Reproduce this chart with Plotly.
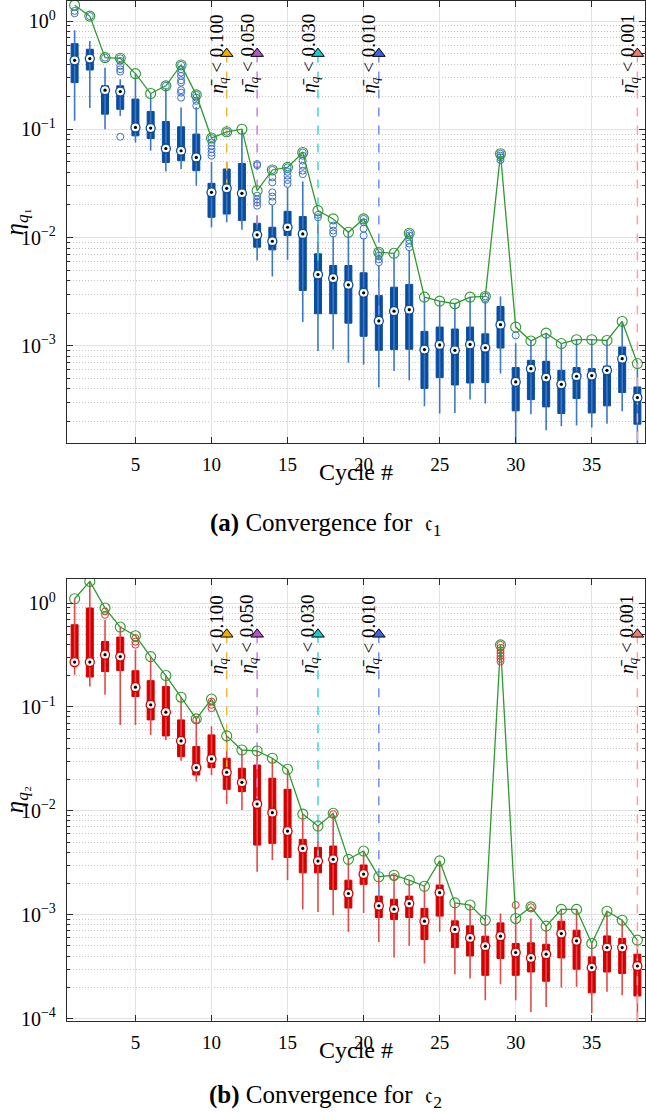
import plotly.graph_objects as go
import math

cycles = list(range(1, 39))

# ---------- panel (a): c1 ----------
wlo_1 = [0.120, 0.157, 0.100, 0.133, 0.0755, 0.0634, 0.0408, 0.0430, 0.0301, 0.01245,
         0.01384, 0.01178, 0.00614, 0.00437, 0.00623, 0.00166, 0.000896, 0.000923, 0.0007, 0.000671,
         0.000412, 0.000586, 0.00048, 0.000277, 0.000237, 0.00024, 0.000319, 0.000293, 0.000554, 0.00012,
         0.000234, 0.000166, 0.000181, 0.000184, 0.000176, 0.000191, 0.000249, 0.00012]
q1_1 = [0.270, 0.353, 0.138, 0.153, 0.0871, 0.0822, 0.0494, 0.0513, 0.0415, 0.0154,
        0.0165, 0.01435, 0.00815, 0.0077, 0.01043, 0.00325, 0.00198, 0.00198, 0.00162, 0.001225,
        0.00091, 0.000923, 0.00093, 0.000404, 0.000509, 0.000435, 0.000454, 0.000458, 0.000955, 0.000251,
        0.000319, 0.000273, 0.000237, 0.000326, 0.00024, 0.000279, 0.000371, 0.000189]
med_1 = [0.434, 0.450, 0.230, 0.223, 0.104, 0.1026, 0.0665, 0.0634, 0.0550, 0.0262,
         0.0285, 0.0256, 0.0106, 0.00925, 0.01245, 0.0108, 0.00456, 0.00422, 0.00366, 0.00309,
         0.0017, 0.00209, 0.00216, 0.000923, 0.00102, 0.00091, 0.00103, 0.00096, 0.00157, 0.000464,
         0.000616, 0.000509, 0.000441, 0.000524, 0.000531, 0.000594, 0.000762, 0.000333]
q3_1 = [0.618, 0.549, 0.252, 0.252, 0.190, 0.146, 0.118, 0.1055, 0.0903, 0.0317,
        0.0430, 0.0484, 0.01355, 0.01245, 0.01747, 0.01563, 0.00708, 0.00552, 0.00552, 0.00473,
        0.00292, 0.00348, 0.00369, 0.00136, 0.00149, 0.00143, 0.00149, 0.00129, 0.00231, 0.00063,
        0.000735, 0.00072, 0.000594, 0.00063, 0.000616, 0.00065, 0.000975, 0.000417]
whi_1 = [0.821, 0.654, 0.371, 0.290, 0.327, 0.214, 0.240, 0.159, 0.160, 0.050,
         0.050, 0.098, 0.016, 0.0200, 0.029, 0.033, 0.0145, 0.0103, 0.0112, 0.0098,
         0.0055, 0.00716, 0.0076, 0.00282, 0.00259, 0.00245, 0.00282, 0.00255, 0.00286, 0.00106,
         0.00111, 0.00131, 0.00105, 0.00114, 0.00114, 0.00112, 0.00168, 0.000686]
green_1 = [1.40, 1.11, 0.459, 0.453, 0.327, 0.214, 0.252, 0.393, 0.208, 0.083,
           0.0948, 0.1002, 0.0271, 0.0421, 0.0445, 0.0611, 0.01774, 0.01487, 0.01119, 0.01487,
           0.00732, 0.00716, 0.01096, 0.00282, 0.00259, 0.00245, 0.00282, 0.00286, 0.0594, 0.00149,
           0.00111, 0.00131, 0.00105, 0.00114, 0.00114, 0.00112, 0.00168, 0.000686]
out_x_1 = [1, 1, 2, 3, 4, 4, 4, 4, 4, 4, 7,
           8, 8, 8, 8, 8, 8, 8, 8, 8,
           9, 9, 9, 9, 10, 10, 10, 10, 10, 10, 11,
           13, 13, 13, 13, 13, 13, 14, 14, 14, 14, 14, 14,
           15, 15, 15, 15, 15, 16, 16, 16, 16, 16, 16,
           17, 17, 18, 18, 18, 20, 20, 20, 20, 21, 21, 21, 21,
           23, 23, 23, 23, 23, 28, 28, 29, 29, 29, 29, 30]
out_y_1 = [1.24, 1.18, 1.11, 0.459, 0.453, 0.428, 0.385, 0.359, 0.341, 0.0853, 0.252,
           0.393, 0.359, 0.334, 0.311, 0.284, 0.270, 0.230, 0.218, 0.196,
           0.208, 0.196, 0.183, 0.165, 0.083, 0.0755, 0.0705, 0.0657, 0.0608, 0.057, 0.0948,
           0.0478, 0.0465, 0.0244, 0.0225, 0.0211, 0.0197, 0.0421, 0.036, 0.0324, 0.0262, 0.0239, 0.0215,
           0.0445, 0.0405, 0.0373, 0.034, 0.0313, 0.0611, 0.057, 0.0513, 0.046, 0.0415, 0.0385,
           0.0162, 0.0154, 0.0129, 0.0116, 0.0109, 0.01487, 0.01384, 0.0121, 0.01043, 0.00732, 0.0068, 0.0063, 0.00592,
           0.01096, 0.01043, 0.0095, 0.0088, 0.00814, 0.00286, 0.00266, 0.0594, 0.057, 0.055, 0.052, 0.00125]

# ---------- panel (b): c2 ----------
wlo_2 = [0.204, 0.157, 0.131, 0.0671, 0.0671, 0.0538, 0.0481, 0.0304, 0.0191, 0.0221,
         0.01163, 0.0102, 0.00259, 0.00336, 0.00215, 0.001125, 0.00106, 0.00099, 0.000684, 0.00104,
         0.000547, 0.000387, 0.000501, 0.000339, 0.000684, 0.000267, 0.000243, 0.00015, 0.000214, 0.00015,
         0.000116, 0.000129, 0.000199, 0.000202, 0.000113, 0.000181, 0.000168, 0.00009]
q1_2 = [0.254, 0.194, 0.219, 0.224, 0.126, 0.075, 0.0526, 0.0332, 0.0221, 0.026,
        0.0161, 0.0153, 0.00468, 0.00486, 0.00356, 0.00253, 0.00253, 0.00175, 0.00116, 0.00196,
        0.00094, 0.0009, 0.00094, 0.000577, 0.00097, 0.000483, 0.000401, 0.000261, 0.000379, 0.000261,
        0.000281, 0.000229, 0.000384, 0.000299, 0.000177, 0.000281, 0.000272, 0.000165]
med_2 = [0.270, 0.270, 0.318, 0.305, 0.155, 0.1047, 0.089, 0.0471, 0.026, 0.0316,
         0.0235, 0.0188, 0.01163, 0.0096, 0.00638, 0.00435, 0.00328, 0.00341, 0.0016, 0.00246,
         0.00122, 0.00113, 0.00128, 0.000866, 0.00163, 0.000721, 0.000598, 0.000498, 0.000621, 0.000433,
         0.000384, 0.000417, 0.000659, 0.00056, 0.00031, 0.000483, 0.000483, 0.000321]
q3_2 = [0.618, 0.895, 0.427, 0.470, 0.223, 0.179, 0.157, 0.075, 0.0415, 0.0538,
        0.0321, 0.0257, 0.0276, 0.0206, 0.0161, 0.00531, 0.00445, 0.00458, 0.00215, 0.00301,
        0.00151, 0.00141, 0.00151, 0.00115, 0.00193, 0.000873, 0.000782, 0.000621, 0.000834, 0.000528,
        0.000536, 0.00052, 0.000866, 0.00071, 0.000393, 0.000625, 0.00059, 0.000417]
whi_2 = [1.10, 1.615, 0.69, 0.587, 0.355, 0.305, 0.2005, 0.124, 0.0767, 0.065,
         0.0526, 0.0385, 0.0377, 0.0321, 0.0251, 0.0093, 0.00714, 0.00946, 0.00341, 0.0041,
         0.00232, 0.0024, 0.00215, 0.00188, 0.0033, 0.0013, 0.00124, 0.000885, 0.00103, 0.00092,
         0.00092, 0.000776, 0.001125, 0.001125, 0.000528, 0.00108, 0.000885, 0.000569]
green_2 = [1.10, 1.615, 0.895, 0.587, 0.484, 0.305, 0.2005, 0.124, 0.0767, 0.119,
           0.0526, 0.0385, 0.0377, 0.0321, 0.0251, 0.0093, 0.00714, 0.00946, 0.00341, 0.0041,
           0.00232, 0.0024, 0.00215, 0.00188, 0.0033, 0.0013, 0.00124, 0.000885, 0.396, 0.00092,
           0.00119, 0.000776, 0.001125, 0.001125, 0.000528, 0.00108, 0.000885, 0.000569]
out_x_2 = [3, 3, 5, 5, 5, 9, 10, 10, 10, 18, 22, 29, 29, 29, 29, 29, 29, 29, 30, 31]
out_y_2 = [0.830, 0.771, 0.460, 0.424, 0.397, 0.075, 0.1127, 0.1047, 0.0973, 0.0093, 0.0023,
           0.396, 0.37, 0.35, 0.33, 0.31, 0.29, 0.274, 0.00124, 0.00118]

# ---------- thresholds ----------
thr_cycles = [11, 13, 17, 21, 38]
thr_labels = ["0.100", "0.050", "0.030", "0.010", "0.001"]
thr_level = 0.5
thr_end_1 = [0.0285, 0.0106, 0.00456, 0.0017, 0.0001]
thr_end_2 = [0.0235, 0.01163, 0.00328, 0.00122, 0.00005]
thr_tri_colors = ["#f2a900", "#b54fd6", "#1ec9c9", "#3c63e0", "#f07a6a"]
thr_line_colors = ["#f2b634", "#c77fe6", "#3fd6d6", "#6e8ff0", "#ff9f9f"]

# ---------- y tick labels ----------
ytick_vals_1 = [1, 0.1, 0.01, 0.001]
ytick_text_1 = ["10<sup>0</sup>", "10<sup>−1</sup>", "10<sup>−2</sup>", "10<sup>−3</sup>"]
ytick_vals_2 = [1, 0.1, 0.01, 0.001, 0.0001]
ytick_text_2 = ["10<sup>0</sup>", "10<sup>−1</sup>", "10<sup>−2</sup>", "10<sup>−3</sup>", "10<sup>−4</sup>"]

FONT = "Liberation Serif"

fig = go.Figure()


def add_panel(xa, ya, wlo, q1, med, q3, whi, green, ox, oy, dark, light, outc, thr_end):
    wx, wy = [], []
    for c, a, b in zip(cycles, wlo, whi):
        wx += [c, c, None]
        wy += [a, b, None]
    fig.add_trace(go.Scatter(x=wx, y=wy, mode="lines", line=dict(color=light, width=1.6),
                             xaxis=xa, yaxis=ya, hoverinfo="skip"))
    for i, c in enumerate(thr_cycles):
        fig.add_trace(go.Scatter(x=[c, c], y=[thr_level, thr_end[i]], mode="lines",
                                 line=dict(color=thr_line_colors[i], width=1.5, dash="dash"),
                                 xaxis=xa, yaxis=ya, hoverinfo="skip"))
    fig.add_trace(go.Box(x=cycles, q1=q1, median=med, q3=q3, lowerfence=q1, upperfence=q3,
                         width=0.46, fillcolor=dark, line=dict(color=dark, width=1),
                         whiskerwidth=0, boxpoints=False, xaxis=xa, yaxis=ya))
    fig.add_trace(go.Scatter(x=ox, y=oy, mode="markers",
                             marker=dict(symbol="circle-open", size=7, color=outc, line=dict(width=1)),
                             xaxis=xa, yaxis=ya))
    fig.add_trace(go.Scatter(x=cycles, y=green, mode="lines+markers",
                             line=dict(color="#2f9a2f", width=1.3),
                             marker=dict(symbol="circle-open", size=10, color="#2f9a2f", line=dict(width=1.1)),
                             xaxis=xa, yaxis=ya))
    fig.add_trace(go.Scatter(x=cycles, y=med, mode="markers",
                             marker=dict(symbol="circle", size=9, color="white", line=dict(color=dark, width=1.3)),
                             xaxis=xa, yaxis=ya))
    fig.add_trace(go.Scatter(x=cycles, y=med, mode="markers",
                             marker=dict(symbol="circle", size=3.2, color="black"),
                             xaxis=xa, yaxis=ya))
    fig.add_trace(go.Scatter(x=thr_cycles, y=[thr_level] * len(thr_cycles), mode="markers",
                             marker=dict(symbol="triangle-up", size=11, color=thr_tri_colors,
                                         line=dict(color="black", width=1)),
                             xaxis=xa, yaxis=ya))
    for c, lab in zip(thr_cycles, thr_labels):
        fig.add_annotation(x=c - 0.58, y=math.log10(thr_level), xref=xa, yref=ya,
                           text="<i>η̄</i><sub><i>q</i></sub> &lt; " + lab, textangle=-90,
                           showarrow=False, xanchor="center", yanchor="middle",
                           font=dict(family=FONT, size=19, color="black"))


add_panel("x", "y", wlo_1, q1_1, med_1, q3_1, whi_1, green_1, out_x_1, out_y_1,
          "#0a4d9e", "#3b78c6", "#3d72c8", thr_end_1)
add_panel("x2", "y2", wlo_2, q1_2, med_2, q3_2, whi_2, green_2, out_x_2, out_y_2,
          "#d40000", "#e24a4a", "#e03030", thr_end_2)

xcommon = dict(range=[0.5, 38.5], tick0=0, dtick=5, showgrid=True, gridcolor="#e2e2e2", gridwidth=1,
               showline=True, linecolor="#2a2a2a", linewidth=1.3, mirror="allticks",
               ticks="inside", ticklen=6, tickcolor="#2a2a2a", zeroline=False, automargin=False,
               tickfont=dict(family=FONT, size=19, color="black"), ticklabelstandoff=4)
ycommon = dict(type="log", tickmode="array", showgrid=True, gridcolor="#e2e2e2", gridwidth=1,
               showline=True, linecolor="#2a2a2a", linewidth=1.3, mirror="allticks",
               ticks="inside", ticklen=6, tickcolor="#2a2a2a", automargin=False,
               tickfont=dict(family=FONT, size=20, color="black"), ticklabelstandoff=6,
               minor=dict(dtick="D1", ticks="inside", ticklen=3, tickcolor="#2a2a2a",
                          showgrid=True, gridcolor="#c4c4c4", griddash="1px,2px", gridwidth=1))

fig.update_layout(
    width=646, height=1113,
    margin=dict(l=67, r=1, t=1, b=92),
    plot_bgcolor="white", paper_bgcolor="white",
    showlegend=False,
    xaxis=dict(domain=[0, 1], anchor="y", **xcommon),
    yaxis=dict(domain=[0.5667, 1], anchor="x", range=[-3.897, 0.185],
               tickvals=ytick_vals_1, ticktext=ytick_text_1, **ycommon),
    xaxis2=dict(domain=[0, 1], anchor="y2", **xcommon),
    yaxis2=dict(domain=[0, 0.4333], anchor="x2", range=[-4.023, 0.231],
                tickvals=ytick_vals_2, ticktext=ytick_text_2, **ycommon),
)

txt = dict(family=FONT, size=24, color="black")
fig.add_annotation(x=0.5, y=0.5385, xref="paper", yref="paper", text="Cycle #", showarrow=False,
                   xanchor="center", yanchor="middle", font=txt)
fig.add_annotation(x=0.5, y=-0.0284, xref="paper", yref="paper", text="Cycle #", showarrow=False,
                   xanchor="center", yanchor="middle", font=txt)
fig.add_annotation(x=-0.088, y=0.783, xref="paper", yref="paper",
                   text="<i>η</i><sub><i>q</i>₁</sub>", textangle=-90, showarrow=False,
                   xanchor="center", yanchor="middle", font=dict(family=FONT, size=25, color="black"))
fig.add_annotation(x=-0.088, y=0.2166, xref="paper", yref="paper",
                   text="<i>η</i><sub><i>q</i>₂</sub>", textangle=-90, showarrow=False,
                   xanchor="center", yanchor="middle", font=dict(family=FONT, size=25, color="black"))
fig.add_annotation(x=0.448, y=0.487, xref="paper", yref="paper",
                   text="<b>(a)</b> Convergence for  𝔠<sub>1</sub>", showarrow=False,
                   xanchor="center", yanchor="middle", font=dict(family=FONT, size=25, color="black"))
fig.add_annotation(x=0.448, y=-0.074, xref="paper", yref="paper",
                   text="<b>(b)</b> Convergence for  𝔠<sub>2</sub>", showarrow=False,
                   xanchor="center", yanchor="middle", font=dict(family=FONT, size=25, color="black"))

fig.write_html("out.html", config={"displayModeBar": False},
               post_script="document.body.style.margin='0';")
